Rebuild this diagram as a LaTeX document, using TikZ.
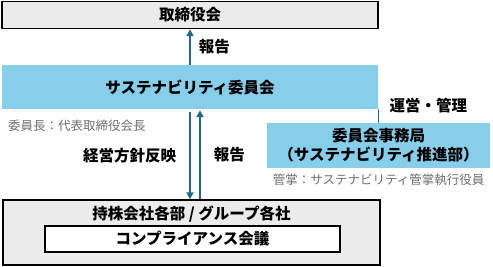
\documentclass[tikz,border=0pt]{standalone}
\usepackage{fontspec}
\setmainfont{Noto Sans CJK JP}
\usetikzlibrary{arrows.meta,positioning}
\definecolor{skyfill}{HTML}{87CEEB}
\definecolor{flowblue}{HTML}{1D6A8A}
\definecolor{panelgray}{HTML}{EBEBEB}
\definecolor{notegray}{HTML}{6E6E6E}
\begin{document}
\begin{tikzpicture}[x=1pt, y=1pt,
      every node/.style={font=\fontsize{15.5}{19}\selectfont\bfseries,
                         inner sep=0pt, text=black},
      boardbox/.style={rectangle, draw=black, line width=1.4pt, fill=panelgray,
                    minimum width=376pt, minimum height=27pt},
      bluebox/.style={rectangle, fill=skyfill, align=center},
      groupbox/.style={rectangle, draw=black, line width=1.4pt, fill=panelgray,
                    minimum width=377pt, minimum height=65pt},
      meetbox/.style={rectangle, draw=black, line width=1.2pt, fill=white,
                    minimum width=295pt, minimum height=26pt},
      note/.style={font=\fontsize{12.5}{15}\selectfont, text=notegray},
      flow/.style={-{Triangle[width=7pt, length=7pt]}, line width=1.8pt, flowblue},
    ]
    \useasboundingbox (0,0) rectangle (493,-266);

    \node[boardbox] (board) at (190,-15) {取締役会};

    \node[bluebox, minimum width=376pt, minimum height=44pt] (committee)
      at (190,-87) {サステナビリティ委員会};

    \node[bluebox, minimum width=223pt, minimum height=45pt] (office)
      at (378.5,-145.5) {委員会事務局\\（サステナビリティ推進部）};

    \node[groupbox] (group) at (191.5,-232.5) {};
    \node[below=6pt of group.north] (grouptitle) {持株会社各部 / グループ各社};
    \node[meetbox] (meeting) at (192.5,-239) {コンプライアンス会議};

    % notes under the blue boxes
    \node[note, anchor=west] (chair) at (8,-126) {委員長：代表取締役会長};
    \node[note, below=6pt of office] (officer) {管掌：サステナビリティ管掌執行役員};

    % reporting and policy flows
    \draw[flow] (committee.north) -- (board.south)
      node[midway, right=8pt] {報告};

    \draw[flow] ([yshift=-3pt]committee.south) -- (committee.south |- group.north)
      node[midway, left=13pt] {経営方針反映};

    \draw[flow] ([xshift=10pt]committee.south |- group.north)
      -- ([xshift=10pt, yshift=-1pt]committee.south)
      node[midway, right=13pt] {報告};

    \draw[line width=1pt, flowblue] (committee.south east)
      -- (committee.south east |- office.north)
      node[at start, anchor=west, xshift=11pt, yshift=4pt] {運営・管理};

  \end{tikzpicture}
\end{document}
